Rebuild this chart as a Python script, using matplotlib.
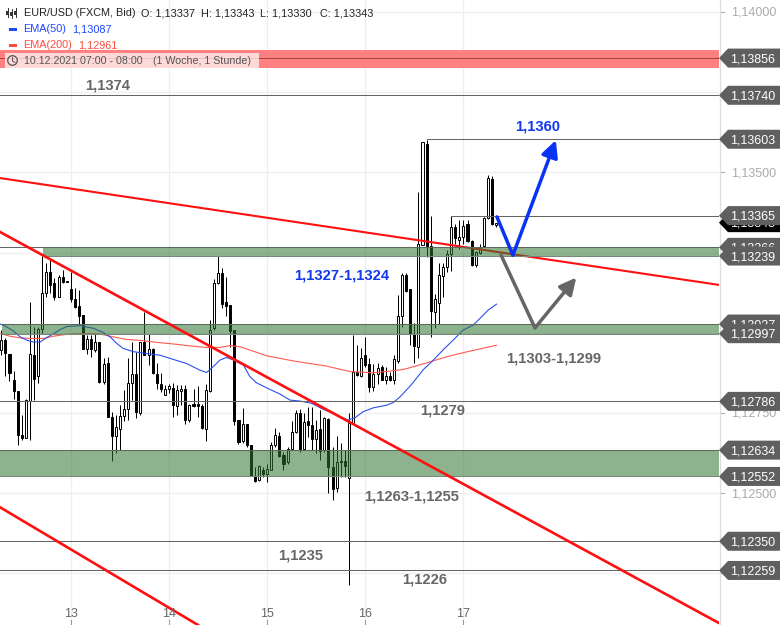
import numpy as np
import matplotlib
matplotlib.use('Agg')
import matplotlib.pyplot as plt
from matplotlib.patches import Polygon, Rectangle, Circle

plt.rcParams['font.family'] = ['Liberation Sans', 'DejaVu Sans']

# hourly candles, prices in 1e-5
opens = [112946,112977,112935,112854,112818,112680,112673,112788,112930,112865,
         113013,113125,113188,113154,113112,113173,113160,113135,113104,113083,
         113054,112950,112980,112946,112970,112847,112906,112738,112679,112700,
         112741,112761,112842,112870,112750,112970,112929,112948,112871,112840,
         112807,112826,112829,112772,112819,112826,112727,112777,112777,112771,
         112701,112819,113014,113154,113187,113096,113086,113008,112728,112661,
         112717,112650,112553,112540,112572,112561,112572,112650,112678,112618,
         112596,112638,112689,112750,112639,112724,112712,112668,112700,112634,
         112731,112582,112516,112599,112601,112546,112719,112878,112865,112929,
         112904,112830,112870,112892,112854,112865,112852,112912,113053,113180,
         113135,112996,112956,113273,113588,113270,113065,113094,113177,113206,
         113245,113328,113289,113297,113338,113287,113211,113249,113270,113356,
         113478,113337]
highs = [113008,112982,112935,112881,112818,112743,112792,113097,113017,113017,
         113239,113218,113227,113169,113180,113195,113160,113190,113138,113133,
         113056,112993,112993,112998,112972,112920,112925,112753,112743,112774,
         112821,112920,112972,112941,112972,113065,112996,112951,112907,112873,
         112837,112840,112842,112837,112837,112837,112779,112826,112833,112779,
         112840,113041,113166,113239,113201,113175,113086,113008,112728,112764,
         112717,112650,112582,112587,112582,112592,112660,112702,112691,112629,
         112644,112724,112759,112761,112751,112769,112769,112728,112759,112738,
         112733,112644,112678,112657,112634,112750,112993,112962,112951,112986,
         112920,112904,112906,112899,112894,112878,112930,113118,113185,113185,
         113135,113029,113438,113594,113601,113364,113122,113216,113218,113258,
         113364,113339,113351,113351,113351,113289,113256,113276,113360,113492,
         113488,113343]
lows = [112930,112865,112850,112792,112650,112667,112673,112667,112790,112842,
        113000,113110,113123,113102,113110,113156,113159,113097,113076,113027,
        112950,112935,112923,112941,112842,112840,112738,112601,112625,112634,
        112725,112727,112790,112733,112743,112930,112899,112871,112826,112816,
        112805,112813,112738,112743,112774,112715,112722,112769,112738,112701,
        112663,112816,113008,113152,113076,113052,112956,112712,112653,112655,
        112644,112553,112535,112538,112551,112535,112572,112644,112613,112572,
        112592,112636,112686,112629,112634,112676,112634,112626,112603,112629,
        112501,112480,112504,112551,112551,112213,112717,112865,112863,112894,
        112816,112819,112840,112852,112839,112850,112840,112906,113018,113128,
        112961,112906,112920,113273,113237,112987,113015,113027,113112,113190,
        113193,113278,113260,113278,113284,113208,113206,113245,113268,113353,
        113336,113330]
closes = [112977,112937,112873,112819,112682,112671,112790,112935,112857,113013,
          113123,113188,113149,113110,113173,113159,113159,113106,113081,113052,
          112950,112979,112948,112970,112847,112904,112738,112677,112705,112741,
          112761,112842,112870,112753,112970,112930,112948,112873,112842,112825,
          112826,112833,112775,112821,112826,112727,112774,112773,112773,112703,
          112823,113010,113154,113185,113089,113083,113006,112724,112660,112715,
          112650,112553,112538,112584,112559,112574,112650,112680,112616,112592,
          112638,112689,112751,112634,112723,112713,112670,112696,112632,112733,
          112582,112514,112596,112596,112585,112719,112878,112867,112920,112899,
          112830,112871,112889,112854,112865,112852,112917,113053,113180,113131,
          112996,112958,113278,113594,113270,113067,113104,113180,113206,113245,
          113330,113294,113297,113334,113287,113211,113251,113266,113356,113481,
          113338,113343]

ema50_x = [-0.3,0.9,2.9,4.6,6.2,7.8,9.5,11.1,12.7,14.4,16,19.2,22.5,25,26.6,28.2,29.8,32.3,
           35.5,38.8,42,45.3,48.6,50.2,51.8,53.5,55.1,56.7,59.2,60.8,62.4,64.9,68.1,70.6,
           73,75.9,78.3,81.2,84.8,86.5,88.5,91,94.2,95.8,97.5,100.2,103.2,105.6,108,110.5,
           112.9,115.4,117,119,121.1]
ema50_y = [113027,113021,113006,112987,112977,112971,112971,112985,112996,113010,113019,
           113022,113014,113000,112987,112967,112951,112941,112935,112930,112917,112904,
           112883,112876,112894,112915,112923,112915,112899,112863,112844,112828,112809,
           112790,112787,112780,112764,112748,112728,112735,112754,112766,112774,112782,
           112800,112837,112885,112914,112946,112977,113008,113024,113044,113070,113089]
ema200_x = [-0.3,2.1,4.6,7.8,10.3,12.7,16,20,24.1,27.4,30.6,33.9,38,42,46.1,50.2,53.5,55.9,
            58.4,60.8,64.9,71.4,79.5,85.2,91,97.5,99.1,104,108.9,113.7,118.6,121.1]
ema200_y = [112998,112989,112984,112982,112982,112989,112995,112997,112996,112987,112979,
            112976,112970,112965,112959,112954,112954,112960,112956,112946,112928,112912,
            112896,112879,112875,112884,112888,112906,112925,112940,112954,112961]

price_ticks = [1.14, 1.1375, 1.135, 1.1325, 1.13, 1.1275, 1.125, 1.1225]
day_ticks = [17, 41, 65, 89, 113]
day_labels = ['13', '14', '15', '16', '17']

# right hand tags, drawn in this order, later ones on top
tag_vals = [1.13856, 1.13740, 1.13603, 1.13343, 1.13365, 1.13266, 1.13239, 1.13027, 1.12997,
            1.12786, 1.12634, 1.12552, 1.12350, 1.12259]
tag_cols = ['#5f5f5f'] * 14
tag_cols[3] = '#000000'

level_lines = [(-0.32, 175.5, 1.13740), (104, 175.5, 1.13603), (110, 175.5, 1.13365),
               (-0.32, 175.5, 1.12786), (-0.32, 175.5, 1.12350), (-0.32, 175.5, 1.12259),
               (-0.32, 10.2, 1.13266)]
zones = [(10.2, 1.13266, 1.13239), (0.2, 1.13027, 1.12997), (-0.32, 1.12634, 1.12552)]

labels = [('1,1374', 25.9, 1.13769, '#666666'), ('1,1360', 131.2, 1.13642, '#1038f0'),
          ('1,1327-1,1324', 83.3, 1.13177, '#1038f0'), ('1,1303-1,1299', 135.1, 1.12921, '#666666'),
          ('1,1279', 108, 1.12759, '#666666'), ('1,1263-1,1255', 100.2, 1.12491, '#666666'),
          ('1,1235', 73.3, 1.12307, '#666666'), ('1,1226', 103.4, 1.12232, '#666666')]

W, H = 780, 625
fig = plt.figure(figsize=(W / 100, H / 100), dpi=100)
ax = fig.add_axes([0, 0, 719 / W, 1])
xlim = (-0.32, 175.5)
ylim = (1.12089, 1.14037)
ax.set_xlim(xlim)
ax.set_ylim(ylim)
ax.axis('off')

o = np.array(opens) / 1e5
h = np.array(highs) / 1e5
l = np.array(lows) / 1e5
c = np.array(closes) / 1e5
x = np.arange(len(o))

for p in price_ticks:
    ax.axhline(p, color='#eeeeee', lw=0.9, zorder=0)
for d in day_ticks:
    ax.axvline(d, color='#eeeeee', lw=0.9, zorder=0)

# red resistance band
ax.axhspan(1.13825, 1.13882, color='#ff8080', lw=0, zorder=1)
ax.axhline(1.13856, color='#a04040', lw=0.7, zorder=1.1)

ax.vlines(x, l, h, color='black', lw=0.72, zorder=2)
up = c >= o
ax.bar(x[up], (c - o)[up], bottom=o[up], width=0.5, facecolor='white', edgecolor='black', lw=0.7, zorder=3)
ax.bar(x[~up], (o - c)[~up], bottom=c[~up], width=0.5, facecolor='black', edgecolor='black', lw=0.7, zorder=3)

ax.plot(ema200_x, np.array(ema200_y) / 1e5, color='#ff5a50', lw=0.8, zorder=4)
ax.plot(ema50_x, np.array(ema50_y) / 1e5, color='#2a50f0', lw=0.8, zorder=4)

# upper trend line goes under the zones, the others on top
ax.plot([-0.32, 175.5], [1.13482, 1.13149], color='#ff0f0f', lw=1.5, zorder=4.5)

for x0, top, bot in zones:
    ax.add_patch(Rectangle((x0, bot), 175.5 - x0, top - bot, facecolor='#2e7432', alpha=0.55, lw=0, zorder=5))
    ax.plot([x0, 175.5], [top, top], color='#5a6a5a', lw=0.75, zorder=5.1)
    ax.plot([x0, 175.5], [bot, bot], color='#7a8a7a', lw=0.75, zorder=5.1)

for x0, x1, p in level_lines:
    ax.plot([x0, x1], [p, p], color='#666666', lw=0.75, zorder=5.2)

ax.plot([-0.32, 175.5], [1.13314, 1.12095], color='#ff0f0f', lw=1.9, zorder=6)
ax.plot([-0.32, 48.1], [1.12456, 1.12089], color='#ff0f0f', lw=1.9, zorder=6)

# forecast arrows
ax.plot([121.2, 125.1], [1.13361, 1.13242], color='#0a32f5', lw=2.5, solid_capstyle='round', zorder=7)
ax.annotate('', xy=(135.6, 1.13600), xytext=(125.1, 1.13242),
            arrowprops=dict(arrowstyle='-|>,head_width=0.5,head_length=1.0', color='#0a32f5', lw=2.5, shrinkA=0, shrinkB=0), zorder=7)
ax.plot([122.2, 130.5], [1.13242, 1.13015], color='#666666', lw=2.5, solid_capstyle='round', zorder=7)
ax.annotate('', xy=(140.6, 1.13172), xytext=(130.5, 1.13015),
            arrowprops=dict(arrowstyle='-|>,head_width=0.5,head_length=1.0', color='#666666', lw=2.5, shrinkA=0, shrinkB=0), zorder=7)

for txt, lx, ly, col in labels:
    ax.text(lx, ly, txt, color=col, fontsize=10.6, fontweight='bold', ha='center', va='center', zorder=8)

# right side scale, everything in figure pixels from here on
ov = fig.add_axes([0, 0, 1, 1])
ov.set_xlim(0, W)
ov.set_ylim(H, 0)
ov.axis('off')
ov.patch.set_alpha(0)


def py(p):
    return (ylim[1] - p) / (ylim[1] - ylim[0]) * H


def px(i):
    return (i - xlim[0]) / (xlim[1] - xlim[0]) * 719


ov.plot([719.5, 719.5], [0, H], color='#dddddd', lw=0.9)
for p in price_ticks:
    ov.plot([720, 724], [py(p), py(p)], color='#aaaaaa', lw=0.75, zorder=1)
    ov.text(731, py(p) + 1, ('%.5f' % p).replace('.', ','), color='#aaaaaa', fontsize=9, va='center', zorder=1)
for d, t in zip(day_ticks, day_labels):
    ov.plot([px(d), px(d)], [620, 625], color='#999999', lw=0.75)
    ov.text(px(d), 614, t, color='#666666', fontsize=9, ha='center', va='center')

z = 2
for val, col in zip(tag_vals, tag_cols):
    yy = py(val)
    ov.add_patch(Polygon([(719, yy), (728, yy - 9.5), (780, yy - 9.5), (780, yy + 9.5), (728, yy + 9.5)],
                         closed=True, facecolor=col, edgecolor='none', zorder=z))
    ov.text(730.5, yy + 1, ('%.5f' % val).replace('.', ','), color='white', fontsize=9, va='center', zorder=z + 0.5)
    z += 1

# legend block
ov.add_patch(Rectangle((0, 0), 123, 50, facecolor='white', alpha=0.75, lw=0))
ov.add_patch(Rectangle((5, 53), 254, 15, facecolor='white', alpha=0.7, lw=0))
ov.text(23.5, 13.5, 'EUR/USD (FXCM, Bid)', color='#222222', fontsize=7.8, va='center')
ov.text(141, 13.5, 'O: 1,13337', color='#222222', fontsize=7.8, va='center')
ov.text(201, 13.5, 'H: 1,13343', color='#222222', fontsize=7.8, va='center')
ov.text(260, 13.5, 'L: 1,13330', color='#222222', fontsize=7.8, va='center')
ov.text(320, 13.5, 'C: 1,13343', color='#222222', fontsize=7.8, va='center')
ov.text(23.5, 29.5, 'EMA(50)', color='#1a47ff', fontsize=7.8, va='center')
ov.text(72, 29.5, '1,13087', color='#1a47ff', fontsize=7.8, va='center')
ov.text(23.5, 45.5, 'EMA(200)', color='#ff4a3d', fontsize=7.8, va='center')
ov.text(78.5, 45.5, '1,12961', color='#ff4a3d', fontsize=7.8, va='center')
ov.add_patch(Rectangle((9, 28), 8, 2.5, facecolor='#1a47ff', lw=0))
ov.add_patch(Rectangle((9, 44), 8, 2.5, facecolor='#ff4a3d', lw=0))
ov.text(23.5, 61.5, '10.12.2021 07:00 - 08:00', color='#555555', fontsize=7.7, va='center')
ov.text(153, 61.5, '(1 Woche, 1 Stunde)', color='#555555', fontsize=7.7, va='center')
ov.add_patch(Circle((12.5, 60.5), 4.8, facecolor='none', edgecolor='#555555', lw=0.9))
ov.plot([12.5, 12.5, 15], [57.5, 61, 62.5], color='#555555', lw=0.7)
# little candle glyph in the header
for gx, gy0, gy1 in [(7.5, 8, 17), (11.5, 9, 18), (15.5, 8, 17)]:
    ov.plot([gx, gx], [gy0, gy1], color='#333333', lw=0.7)
    ov.add_patch(Rectangle((gx - 1.2, gy0 + 3), 2.4, 4, facecolor='#333333', lw=0))

fig.savefig('out.png', dpi=100)
